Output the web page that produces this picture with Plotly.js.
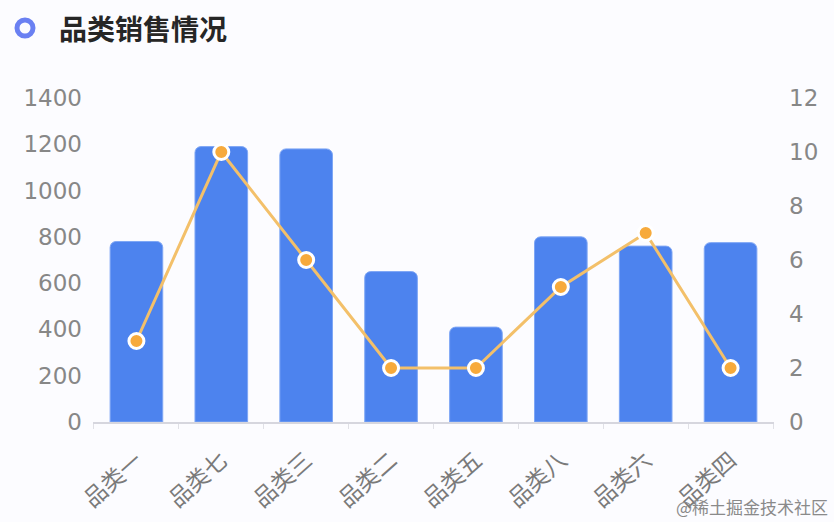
<!DOCTYPE html>
<html>
<head>
<meta charset="utf-8">
<script src="https://cdn.plot.ly/plotly-3.0.1.min.js"></script>
<style>
	body { margin: 0; background: #fcfcff; }
	#chart { width: 834px; height: 522px; }
</style>
</head>
<body>
<div id="chart"></div>
<script>
// 品类销售情况
const categories = ["品类一", "品类七", "品类三", "品类二", "品类五", "品类八", "品类六", "品类四"];
const sales = [780, 1190, 1180, 650, 410, 800, 760, 775];
const counts = [3, 10, 6, 2, 2, 5, 7, 2];

const font_family = "Noto Sans CJK SC, Noto Sans, sans-serif";
const num_font = "DejaVu Sans, sans-serif";

let data = [
		{
			x: categories,
			y: sales,
			type: "bar",
			name: "销售额",
			marker: { color: "#4d83ee", line: { color: "#7ea6f5", width: 1 } },
			width: 0.62,
			hoverinfo: "x+y",
		},
		{
			x: categories,
			y: counts,
			type: "scatter",
			mode: "lines+markers",
			name: "数量",
			yaxis: "y2",
			line: { color: "#f3c06a", width: 3 },
			marker: {
				color: "#f7aa3c",
				size: 15,
				line: { color: "#ffffff", width: 3 },
			},
		},
	],
	layout = {
		width: 834,
		height: 522,
		paper_bgcolor: "#fcfcff",
		plot_bgcolor: "#fcfcff",
		showlegend: false,
		barcornerradius: 6,
		margin: { l: 93, r: 60, t: 98, b: 100, pad: 0 },
		font: { family: font_family, color: "#888", size: 20 },
		xaxis: {
			type: "category",
			showgrid: false,
			showline: true,
			linecolor: "#d6d6de",
			linewidth: 2,
			ticks: "outside",
			tickson: "boundaries",
			ticklen: 5,
			tickcolor: "#e0e0e6",
			tickangle: -42,
			ticklabelstandoff: 14,
			tickfont: { size: 23, color: "#7a7a7a" },
		},
		yaxis: {
			range: [0, 1400],
			dtick: 200,
			showgrid: false,
			zeroline: false,
			ticks: "",
			ticklabelstandoff: 10,
			tickfont: { family: num_font, size: 23, color: "#878787" },
		},
		yaxis2: {
			overlaying: "y",
			side: "right",
			range: [0, 12],
			dtick: 2,
			showgrid: false,
			zeroline: false,
			ticks: "",
			ticklabelstandoff: 14,
			tickfont: { family: num_font, size: 23, color: "#878787" },
		},
		shapes: [
			{
				type: "circle",
				xref: "paper",
				yref: "paper",
				xsizemode: "pixel",
				ysizemode: "pixel",
				xanchor: 0,
				yanchor: 1,
				x0: -76,
				x1: -60,
				y0: 62,
				y1: 78,
				line: { color: "#6a80f2", width: 5 },
				fillcolor: "rgba(0,0,0,0)",
			},
		],
		annotations: [
			{
				text: "<b>品类销售情况</b>",
				xref: "paper",
				yref: "paper",
				x: 0,
				y: 1,
				xshift: -36,
				yshift: 70,
				xanchor: "left",
				yanchor: "middle",
				showarrow: false,
				font: { family: font_family, size: 28, color: "#262626" },
			},
			{
				text: "@稀土掘金技术社区",
				xref: "paper",
				yref: "paper",
				x: 1,
				y: 0,
				xshift: 56,
				yshift: -84,
				xanchor: "right",
				yanchor: "middle",
				showarrow: false,
				font: { family: "Noto Sans CJK SC, sans-serif", size: 17, color: "#8a8a8a" },
			},
		],
	};

Plotly.newPlot("chart", data, layout, { displayModeBar: false });
</script>
</body>
</html>
